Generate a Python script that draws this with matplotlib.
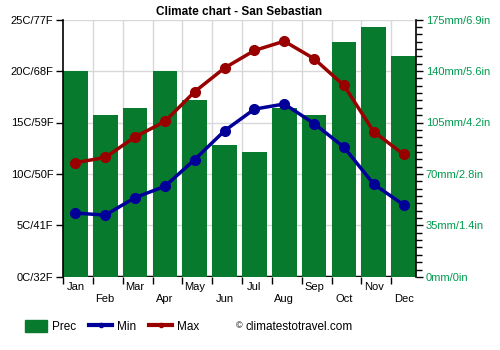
import matplotlib
matplotlib.use("Agg")
import matplotlib.pyplot as plt
from matplotlib.lines import Line2D
from matplotlib.patches import Patch
import numpy as np

months = ["Jan", "Feb", "Mar", "Apr", "May", "Jun", "Jul", "Aug", "Sep", "Oct", "Nov", "Dec"]
prec = [140, 110, 115, 140, 120, 90, 85, 115, 110, 160, 170, 150]
t_min = [6.2, 6.0, 7.7, 8.8, 11.4, 14.2, 16.3, 16.8, 14.9, 12.6, 9.0, 7.0]
t_max = [11.1, 11.6, 13.6, 15.1, 18.0, 20.3, 22.0, 22.9, 21.2, 18.6, 14.1, 11.9]
temp_ticks = [0, 5, 10, 15, 20, 25]
temp_labels = ["0C/32F", "5C/41F", "10C/50F", "15C/59F", "20C/68F", "25C/77F"]
prec_ticks = [0, 35, 70, 105, 140, 175]
prec_labels = ["0mm/0in", "35mm/1.4in", "70mm/2.8in", "105mm/4.2in", "140mm/5.6in", "175mm/6.9in"]

plt.rcParams["font.family"] = ["Liberation Sans", "DejaVu Sans"]
plt.rcParams["font.size"] = 8

green = "#077a2e"
red = "#990000"
blue = "#000099"
txt_green = "#009a4e"

fig = plt.figure(figsize=(5, 3.5), dpi=100)
ax = fig.add_axes([0.126, 0.209, 0.706, 0.735])
ax2 = ax.twinx()

x = np.arange(len(months))
w = 0.83
half = w / 2

# bars on the precipitation axis, drawn behind the temperature axis
ax2.set_zorder(1)
ax.set_zorder(2)
ax.patch.set_visible(False)

ax2.bar(x, prec, width=w, color=green, zorder=2)
ax2.set_ylim(0, 175)
ax2.set_yticks(prec_ticks)
ax2.set_yticks(np.arange(0, 176, 5), minor=True)
ax2.set_yticklabels(prec_labels, color=txt_green)
ax2.tick_params(axis="y", which="major", length=5, width=1, pad=2)
ax2.tick_params(axis="y", which="minor", length=4, width=1)

# grid on the back axis
for t in temp_ticks[1:]:
    ax2.axhline(t * 7, color="#d8d8d8", lw=1, zorder=0)
for b in x[1:] - half:
    ax2.axvline(b, color="#d8d8d8", lw=1, zorder=0)
ax2.axhline(0, color="black", lw=2.5, zorder=1)

ax.plot(x, t_min, color=blue, lw=2.5, marker="o", ms=7, zorder=3)
ax.plot(x, t_max, color=red, lw=2.5, marker="o", ms=7, zorder=3)
ax.set_ylim(0, 25)
ax.set_xlim(-half, len(months) - 1 + half)
ax.set_yticks(temp_ticks)
ax.set_yticklabels(temp_labels)
ax.tick_params(axis="y", length=5, width=1, pad=2)

ax.set_xticks(x - half)
ax.set_xticklabels([])
ax.set_xticks(x, minor=True)
ax.set_xticklabels([m if i % 2 == 0 else "\n" + m for i, m in enumerate(months)], minor=True)
ax.tick_params(axis="x", which="major", length=5, width=1)
ax.tick_params(axis="x", which="minor", length=0, pad=4)

for a in (ax, ax2):
    a.spines["top"].set_visible(False)
    a.spines["left"].set_linewidth(1.2)
    a.spines["right"].set_linewidth(1.2)
    a.spines["bottom"].set_visible(False)
ax2.spines["left"].set_visible(False)
ax.spines["right"].set_visible(False)

ax.set_title("Climate chart - San Sebastian", fontsize=8.5, fontweight="bold", pad=3)

handles = [Patch(color=green), Line2D([], [], color=blue, lw=3, marker="o", ms=3),
           Line2D([], [], color=red, lw=3, marker="o", ms=3)]
fig.legend(handles, ["Prec", "Min", "Max"], loc="center left", bbox_to_anchor=(0.028, 0.067),
           ncol=3, frameon=False, handlelength=1.9, handleheight=1.1, columnspacing=1.1, handletextpad=0.45,
           fontsize=8.5)
fig.text(0.471, 0.069, "\u00a9", fontsize=6.5, va="center")
fig.text(0.491, 0.067, "climatestotravel.com", fontsize=8.5, va="center")

fig.savefig("out.png", dpi=100)
